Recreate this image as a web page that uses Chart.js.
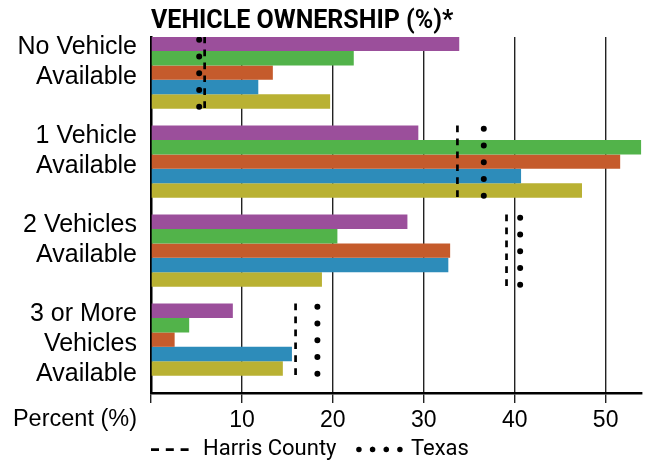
<!DOCTYPE html>
<html>
<head>
<meta charset="utf-8">
<script src="https://cdn.jsdelivr.net/npm/chart.js@4/dist/chart.umd.min.js"></script>
<style>
  html, body { margin: 0; padding: 0; background: #fff; }
  #wrap { width: 647px; height: 460px; }
</style>
</head>
<body>
<div id="wrap"><canvas id="ownership"></canvas></div>
<script>
// Household vehicle availability, percent of households
const categories = [
  ['No Vehicle', 'Available', ''],
  ['1 Vehicle', 'Available', ''],
  ['2 Vehicles', 'Available', ''],
  ['3 or More', 'Vehicles', 'Available']
];
const seriesA = [33.9, 29.4, 28.2, 9.0];
const seriesB = [22.3, 53.9, 20.5, 4.2];
const seriesC = [13.4, 51.6, 32.9, 2.6];
const seriesD = [11.8, 40.7, 32.7, 15.5];
const seriesE = [19.7, 47.4, 18.8, 14.5];
const harrisCounty = [5.9, 33.7, 39.1, 15.9];
const texas = [5.3, 36.6, 40.6, 18.3];
const xTicks = [10, 20, 30, 40, 50];
const axisCaption = 'Percent (%)';

const SANS = "'Liberation Sans', Arial, sans-serif";
const TIGHT = "Roboto, 'Liberation Sans', sans-serif";
const GROUP = 0.81; // share of each category band filled by its bars

Chart.defaults.font.family = SANS;
Chart.defaults.color = '#000';

// bars sit on category index i of the linear y scale
const toPoints = values => values.map((v, i) => ({ x: v, y: i }));

// vertical reference marks down each category band, starting `inset` below its top
function refLine(values, inset) {
  const pts = [];
  values.forEach((v, i) => {
    pts.push({ x: v, y: i - GROUP / 2 + inset });
    pts.push({ x: v, y: i + GROUP / 2 });
    pts.push({ x: null, y: i + 0.5 });
  });
  return pts;
}

const bars = [
  { label: 'A', data: toPoints(seriesA), backgroundColor: '#9b4f9b' },
  { label: 'B', data: toPoints(seriesB), backgroundColor: '#52b34a' },
  { label: 'C', data: toPoints(seriesC), backgroundColor: '#c55b2c' },
  { label: 'D', data: toPoints(seriesD), backgroundColor: '#2d8cba' },
  { label: 'E', data: toPoints(seriesE), backgroundColor: '#b9b133' }
].map(d => ({ ...d, type: 'bar', borderWidth: 0, categoryPercentage: GROUP, barPercentage: 1 }));

const refs = [
  {
    type: 'line', label: 'Harris County', data: refLine(harrisCounty, 0),
    borderColor: '#000', backgroundColor: '#000', borderWidth: 2.7,
    borderDash: [6.7, 6.25], borderCapStyle: 'butt', pointRadius: 0, order: -1
  },
  {
    type: 'line', label: 'Texas', data: refLine(texas, 0.035),
    borderColor: '#000', backgroundColor: '#000', borderWidth: 6,
    borderDash: [0.01, 16.75], borderCapStyle: 'round', pointRadius: 0, order: -1
  }
];

// "Percent (%)" sits on the tick label row, left of the axis
const percentLabel = {
  id: 'percentLabel',
  afterDraw(chart) {
    const { ctx, chartArea } = chart;
    const x = chart.scales.x;
    ctx.save();
    ctx.font = '23.5px ' + SANS;
    ctx.fillStyle = '#000';
    ctx.textAlign = 'right';
    ctx.textBaseline = 'middle';
    ctx.fillText(axisCaption, chartArea.left - 14,
      x.top + x.options.grid.tickLength + x.options.ticks.padding + 23 * 1.2 / 2 - 1);
    ctx.restore();
  }
};

new Chart(document.getElementById('ownership'), {
  type: 'bar',
  data: { datasets: [...bars, ...refs] },
  plugins: [percentLabel],
  options: {
    indexAxis: 'y',
    responsive: true,
    maintainAspectRatio: false,
    animation: false,
    layout: { padding: { left: 8, right: 5, top: 0, bottom: -10.6 } },
    scales: {
      x: {
        type: 'linear',
        position: 'bottom',
        min: 0,
        max: 54,
        afterBuildTicks: s => { s.ticks = [0, ...xTicks].map(v => ({ value: v })); },
        afterFit: s => { s.paddingLeft = 0; s.paddingRight = 0; },
        ticks: {
          callback: v => (v === 0 ? '' : v),
          font: { size: 23 },
          padding: 4,
          maxRotation: 0,
          autoSkip: false
        },
        grid: { color: '#222', lineWidth: 1.4, tickLength: 10, drawTicks: true },
        border: { color: '#000', width: 2.5 }
      },
      y: {
        type: 'linear',
        offset: false,
        reverse: true,
        min: -0.4,
        max: 3.6,
        afterBuildTicks: s => { s.ticks = categories.map((_, i) => ({ value: i })); },
        afterFit: s => { s.width = 143; s.paddingTop = 0; s.paddingBottom = 0; },
        ticks: {
          callback: v => categories[v],
          font: { size: 25, lineHeight: '30px' },
          padding: 14,
          labelOffset: 4.5,
          autoSkip: false
        },
        grid: { display: false, drawTicks: false },
        border: { display: true, color: '#000', width: 2.5 }
      }
    },
    plugins: {
      tooltip: { enabled: false },
      title: {
        display: true,
        text: 'VEHICLE OWNERSHIP (%)*',
        align: 'start',
        fullSize: false,
        color: '#000',
        font: { family: TIGHT, size: 25, weight: 'bold', lineHeight: 1 },
        padding: { top: 9.5, bottom: 2.5 }
      },
      legend: {
        position: 'bottom',
        align: 'start',
        fullSize: false,
        labels: {
          boxWidth: 41,
          boxHeight: 0,
          padding: 0,
          color: '#000',
          font: { family: TIGHT, size: 22 },
          generateLabels(chart) {
            const items = Chart.defaults.plugins.legend.labels.generateLabels(chart)
              .filter(it => chart.data.datasets[it.datasetIndex].type === 'line');
            items.forEach(it => {
              if (it.text === 'Harris County') {
                it.text += '\u2003'; // em space keeps the gap before the next entry
                it.lineDash = [8, 6.8];
                it.lineWidth = 2.7;
                it.lineCap = 'butt';
              } else {
                it.lineDash = [0.01, 13.66];
                it.lineWidth = 5.5;
                it.lineCap = 'round';
              }
            });
            return items;
          }
        }
      }
    }
  }
});
</script>
</body>
</html>
